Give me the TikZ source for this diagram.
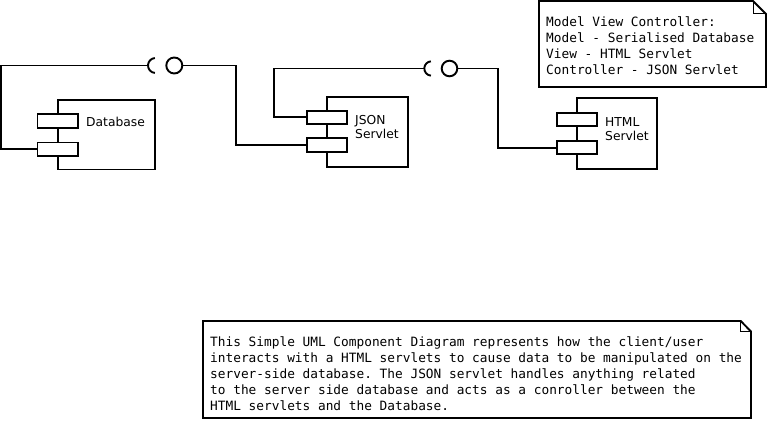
\documentclass[tikz,border=0pt]{standalone}
\usepackage{fontspec}
\setmainfont{DejaVu Sans}
\newfontfamily\notemono{DejaVu Sans Mono}
\frenchspacing
\begin{document}
\begin{tikzpicture}[x=1pt,y=-1pt,
  wire/.style={line width=1.9pt},
  compbody/.style={draw, line width=1.9pt, inner sep=0pt, outer sep=0pt},
  port/.style={draw, fill=white, line width=1.9pt, inner sep=0pt, outer sep=0pt, minimum width=40.6pt, minimum height=13.4pt},
  ball/.style={draw, circle, line width=1.9pt, minimum size=16pt, inner sep=0pt, outer sep=0pt},
  lbl/.style={font=\fontsize{12.3}{14}\selectfont, align=left, inner sep=0pt, anchor=west},
  notetext/.style={font=\notemono\fontsize{12.8}{16}\selectfont\frenchspacing, align=left, inner sep=0pt, anchor=north west},
  fold/.style={line width=1pt}
]
\useasboundingbox (0,0) rectangle (767,422);

% Database component
\node[compbody, minimum width=97pt, minimum height=69.5pt] (db) at (106.5,134.75) {};
\node[port] (dbp1) at (57.8,121) {};
\node[port] (dbp2) at (57.8,149.2) {};
\node[lbl] (dbl) at (86,121.7) {Database};

% JSON Servlet component
\node[compbody, minimum width=81pt, minimum height=70pt] (js) at (367.2,131.7) {};
\node[port] (jsp1) at (327,117.3) {};
\node[port] (jsp2) at (327,145) {};
\node[lbl] (jsl) at (355,126.7) {JSON\\Servlet};

% HTML Servlet component
\node[compbody, minimum width=80pt, minimum height=70.7pt] (ht) at (617.3,133.7) {};
\node[port] (htp1) at (577,119.7) {};
\node[port] (htp2) at (577,147.7) {};
\node[lbl] (htl) at (605,128.9) {HTML\\Servlet};

% Interface 1 (Database -> JSON)
\coordinate (s1) at (155.5,65.5);
\coordinate (s1w) at (148,65.5);
\draw[wire] (s1) ++(95:7.5) arc[start angle=95, end angle=265, radius=7.5];
\node[ball] (b1) at (174.3,65.5) {};
\coordinate (k1) at (1,65.5);
\coordinate (k2) at (236,65.5);
\draw[wire] (dbp2.west) -| (k1) -- (s1w);
\draw[wire] (b1.east) -- (k2) |- (jsp2.west);

% Interface 2 (JSON -> HTML)
\coordinate (s2) at (431.5,68.5);
\coordinate (s2w) at (424.3,68.5);
\draw[wire] (s2) ++(95:7.2) arc[start angle=95, end angle=265, radius=7.2];
\node[ball, minimum size=15.6pt] (b2) at (449.5,68.5) {};
\coordinate (k3) at (274,68.5);
\coordinate (k4) at (498.3,68.5);
\draw[wire] (jsp1.west) -| (k3) -- (s2w);
\draw[wire] (b2.east) -- (k4) |- (htp2.west);

% Note 1
\draw[wire] (539,1) -- (753,1) -- (766,14) -- (766,87) -- (539,87) -- cycle;
\draw[fold] (753,1) -- (753,14) -- (766,14);
\node[notetext] (n1) at (546,16.6) {Model View Controller:\\Model - Serialised Database\\View - HTML Servlet\\Controller - JSON Servlet};

% Note 2
\draw[wire] (203,321) -- (740.7,321) -- (751,331.5) -- (751,418) -- (203,418) -- cycle;
\draw[fold] (740.7,321) -- (740.7,331.5) -- (751,331.5);
\node[notetext] (n2) at (210,337) {This Simple UML Component Diagram represents how the client/user\\interacts with a HTML servlets to cause data to be manipulated on the\\server-side database. The JSON servlet handles anything related\\to the server side database and acts as a conroller between the\\HTML servlets and the Database.};
\end{tikzpicture}
\end{document}
